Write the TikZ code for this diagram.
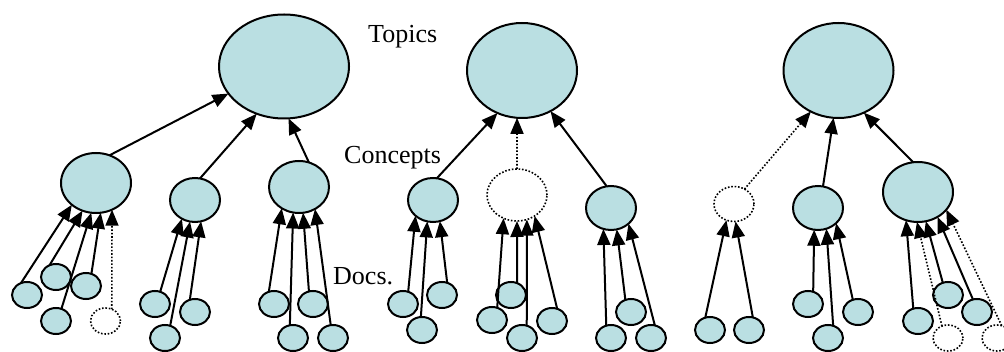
\documentclass[tikz,border=0pt]{standalone}
\usepackage{fontspec}
\setmainfont{Liberation Serif}
\usetikzlibrary{shapes.geometric,arrows.meta}
\definecolor{cfill}{RGB}{186,223,226}
\begin{document}
\begin{tikzpicture}[x=1pt,y=-1pt,
  bub/.style={ellipse, draw, line width=2pt, fill=cfill, inner sep=0pt, outer sep=0pt},
  ghost/.style={ellipse, draw, line width=1.6pt, dash pattern=on 1.6pt off 1.8pt, inner sep=0pt, outer sep=0pt},
  tbig/.style={minimum width=130pt, minimum height=104pt},
  tmid/.style={minimum width=110pt, minimum height=95pt},
  cbig/.style={minimum width=70pt, minimum height=60pt},
  cmid/.style={minimum width=60pt, minimum height=52pt},
  csml/.style={minimum width=50pt, minimum height=44pt},
  ctiny/.style={minimum width=40pt, minimum height=35pt},
  docsz/.style={minimum width=30pt, minimum height=26pt},
  arr/.style={-{Triangle[length=16pt,width=13pt]}, line width=2pt},
  darr/.style={arr, line width=1.6pt, dash pattern=on 1.6pt off 1.8pt},
  lbl/.style={anchor=base west, inner sep=0pt, font=\fontsize{26}{30}\selectfont}
]
\useasboundingbox (0,0) rectangle (1004,352);

% labels
\node[lbl] (topics) at (368,42.7) {Topics};
\node[lbl] (concepts) at (344,163.3) {Concepts};
\node[lbl] (docs) at (333,285) {Docs.};

% topics
\node[bub,tbig] (T1) at (284,66.5) {};
\node[bub,tmid] (T2) at (522,70.5) {};
\node[bub,tmid] (T3) at (838.5,70.5) {};

% concepts
\node[bub,cbig] (c1) at (96,183) {};
\node[bub,csml] (c2) at (195,200) {};
\node[bub,cmid] (c3) at (299,187) {};
\node[bub,csml] (c4) at (433,200) {};
\node[ghost,cmid] (c5) at (517,195) {};
\node[bub,csml] (c6) at (611,208) {};
\node[ghost,ctiny] (c7) at (734,204) {};
\node[bub,csml] (c8) at (818,208) {};
\node[bub,cbig] (c9) at (918,192) {};

% docs
\node[bub,docsz] (g1a) at (27,295) {};
\node[bub,docsz] (g1b) at (56,277) {};
\node[bub,docsz] (g1c) at (86,286) {};
\node[bub,docsz] (g1d) at (56,321) {};
\node[ghost,docsz] (g1e) at (105.5,321) {};

\node[bub,docsz] (g2f) at (155,304) {};
\node[bub,docsz] (g2g) at (195,312) {};
\node[bub,docsz] (g2h) at (165,338) {};

\node[bub,docsz] (g3i) at (274,304) {};
\node[bub,docsz] (g3j) at (313,304) {};
\node[bub,docsz] (g3k) at (293,338) {};
\node[bub,docsz] (g3l) at (333,338) {};

\node[bub,docsz] (g4m) at (403,304) {};
\node[bub,docsz] (g4n) at (442,295) {};
\node[bub,docsz] (g4o) at (422,330) {};

\node[bub,docsz] (g5p) at (511,295) {};
\node[bub,docsz] (g5q) at (492,320) {};
\node[bub,docsz] (g5r) at (522,338) {};
\node[bub,docsz] (g5s) at (552,321) {};

\node[bub,docsz] (g6t) at (611,338) {};
\node[bub,docsz] (g6u) at (631,312) {};
\node[bub,docsz] (g6v) at (651,338) {};

\node[bub,docsz] (g7w) at (710,330) {};
\node[bub,docsz] (g7x) at (749,330) {};

\node[bub,docsz] (g8a) at (808,304) {};
\node[bub,docsz] (g8b) at (828,338) {};
\node[bub,docsz] (g8c) at (858,312) {};

\node[bub,docsz] (g9a) at (918,321) {};
\node[bub,docsz] (g9b) at (948,295) {};
\node[bub,docsz] (g9c) at (977,312) {};
\node[ghost,docsz] (g9d) at (948,338) {};
\node[ghost,docsz] (g9e) at (997,338) {};

% concept -> topic
\draw[arr] (c1.64) -- (T1.206);
\draw[arr] (c2.77) -- (T1.240);
\draw[arr] (c3.68) -- (T1.275);
\draw[arr] (c4.80) -- (T2.240);
\draw[darr] (c5.90) -- (T2.264);
\draw[arr] (c6.101) -- (T2.305);
\draw[darr] (c7.55) -- (T3.236);
\draw[arr] (c8.77) -- (T3.264);
\draw[arr] (c9.99) -- (T3.301);

% doc -> concept
\draw[arr] (g1a.117) -- (c1.222);
\draw[arr] (g1b.119) -- (c1.244);
\draw[arr] (g1d.66) -- (c1.261);
\draw[arr] (g1c.66) -- (c1.279);
\draw[darr] (g1e.62) -- (c1.301);

\draw[arr] (g2f.67) -- (c2.235);
\draw[arr] (g2h.67) -- (c2.257);
\draw[arr] (g2g.113) -- (c2.286);

\draw[arr] (g3i.113) -- (c3.231);
\draw[arr] (g3k.104) -- (c3.257);
\draw[arr] (g3j.108) -- (c3.279);
\draw[arr] (g3l.100) -- (c3.306);

\draw[arr] (g4m.67) -- (c4.222);
\draw[arr] (g4o.95) -- (c4.255);
\draw[arr] (g4n.67) -- (c4.288);

\draw[arr] (g5q.67) -- (c5.240);
\draw[arr] (g5p.63) -- (c5.270);
\draw[arr] (g5r.69) -- (c5.292);
\draw[arr] (g5s.67) -- (c5.310);

\draw[arr] (g6t.111) -- (c6.250);
\draw[arr] (g6u.115) -- (c6.285);
\draw[arr] (g6v.73) -- (c6.318);

\draw[arr] (g7w.111) -- (c7.245);
\draw[arr] (g7x.73) -- (c7.275);

\draw[arr] (g8a.67) -- (c8.260);
\draw[arr] (g8b.67) -- (c8.292);
\draw[arr] (g8c.113) -- (c8.320);

\draw[arr] (g9a.111) -- (c9.247);
\draw[darr] (g9d.117) -- (c9.268);
\draw[arr] (g9b.113) -- (c9.285);
\draw[arr] (g9c.108) -- (c9.308);
\draw[darr] (g9e.69) -- (c9.328);
\end{tikzpicture}
\end{document}
